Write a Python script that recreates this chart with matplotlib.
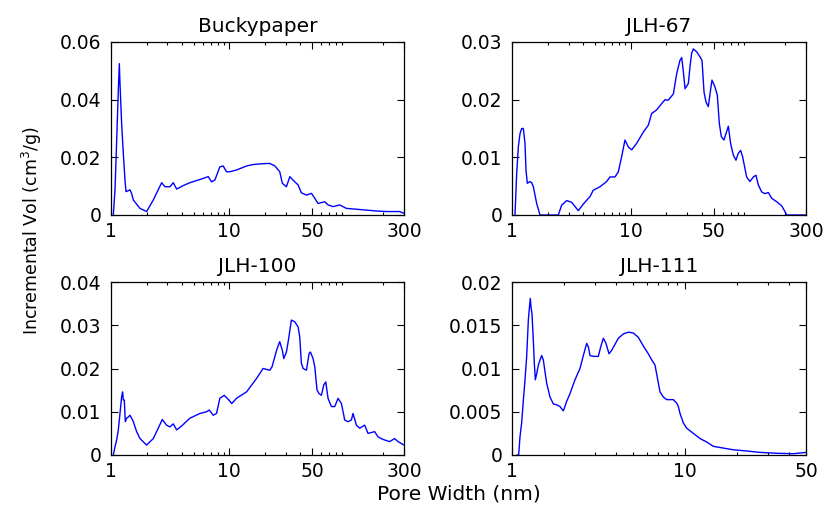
import matplotlib
matplotlib.use("Agg")
import matplotlib.pyplot as plt
from matplotlib.ticker import FixedLocator, FixedFormatter, NullFormatter

plt.rcParams['font.family'] = ['DejaVu Sans']

# ---------------- data ----------------
bucky_x = [1.046, 1.081, 1.117, 1.153, 1.176, 1.191, 1.230, 1.271, 1.313, 1.339, 1.446, 1.494,
           1.544, 1.758, 2.0, 2.277, 2.68, 2.86, 3.15, 3.36, 3.59, 4.08, 4.64, 5.64, 6.64, 7.08,
           7.55, 8.32, 8.88, 9.48, 10.1, 11.5, 14.0, 15.9, 19.3, 22.0, 24.3, 26.7, 28.1, 30.4,
           32.5, 34.6, 38.2, 40.7, 44.9, 49.5, 52.8, 56.3, 64.1, 68.4, 75.4, 85.8, 97.7, 118.6,
           144, 175, 213, 275, 300]
bucky_y = [0, 0.0087, 0.026, 0.0433, 0.0525, 0.0456, 0.0317, 0.0213, 0.0121, 0.0081, 0.0087, 0.0075,
           0.0052, 0.0023, 0.0012, 0.0052, 0.0112, 0.0098, 0.0098, 0.0112, 0.009, 0.0102, 0.0112,
           0.0123, 0.0133, 0.0115, 0.0121, 0.0167, 0.017, 0.015, 0.015, 0.0156, 0.017, 0.0175,
           0.0178, 0.0179, 0.017, 0.015, 0.011, 0.0098, 0.0133, 0.0121, 0.0104, 0.0077, 0.0069,
           0.0075, 0.0058, 0.004, 0.0046, 0.0035, 0.0029, 0.0035, 0.0023, 0.002, 0.0017, 0.0014,
           0.0012, 0.0012, 0.0006]

jlh67_x = [1.06, 1.095, 1.131, 1.168, 1.206, 1.246, 1.287, 1.312, 1.346, 1.418, 1.465, 1.513,
           1.614, 1.721, 2.456, 2.62, 2.887, 3.183, 3.62, 3.99, 4.54, 4.84, 5.51, 6.27, 6.69, 7.38,
           7.87, 8.39, 8.95, 9.55, 10.2, 11.2, 12.8, 14.1, 15.0, 16.5, 18.2, 19.5, 20.7, 22.9,
           24.4, 26.0, 26.9, 27.8, 28.7, 30.6, 31.6, 32.6, 33.7, 36.0, 38.4, 39.9, 41.5, 43.1,
           45.1, 46.6, 48.4, 51.3, 53.7, 55.8, 58.0, 61.1, 63.5, 66.5, 69.5, 73.2, 77.1, 80.7,
           84.4, 87.7, 94.8, 101, 108, 113.7, 119, 127, 135, 144.5, 154, 170, 187, 199.5, 206, 300]
jlh67_y = [0, 0.0072, 0.0118, 0.0141, 0.015, 0.015, 0.0124, 0.0078, 0.0055, 0.0058, 0.0056, 0.0049,
           0.002, 0, 0, 0.0017, 0.0025, 0.0022, 0.00075, 0.0019, 0.0032, 0.0043, 0.0049, 0.0058,
           0.0066, 0.0066, 0.0075, 0.0101, 0.013, 0.0118, 0.0113, 0.0124, 0.0144, 0.0156, 0.0176,
           0.0182, 0.0193, 0.02, 0.0199, 0.021, 0.0245, 0.0268, 0.0273, 0.0248, 0.0219, 0.0228,
           0.0257, 0.028, 0.0288, 0.0283, 0.0274, 0.0268, 0.0213, 0.0196, 0.0188, 0.021, 0.0234,
           0.0222, 0.0208, 0.0159, 0.0136, 0.013, 0.0141, 0.0154, 0.0124, 0.0104, 0.0095, 0.0107,
           0.0112, 0.0101, 0.0066, 0.0058, 0.0066, 0.0069, 0.0052, 0.004, 0.0037, 0.0039, 0.0029,
           0.0023, 0.0016, 0.0006, 0, 0]

jlh100_x = [1.046, 1.081, 1.117, 1.153, 1.176, 1.207, 1.230, 1.254, 1.271, 1.296, 1.321, 1.356,
            1.401, 1.446, 1.494, 1.544, 1.647, 1.758, 2.0, 2.277, 2.51, 2.713, 2.951, 3.15, 3.36,
            3.59, 3.95, 4.64, 5.64, 6.42, 6.77, 7.31, 7.80, 8.32, 9.06, 9.85, 10.5, 11.5, 14.0,
            15.1, 17.0, 19.3, 22.0, 23.0, 25.1, 26.7, 28.1, 28.9, 30.4, 31.6, 33.5, 35.8, 38.2,
            39.4, 40.7, 42.1, 44.9, 47.3, 48.5, 51.1, 52.8, 55.2, 57.4, 60.1, 62.9, 65.4, 68.4,
            73.0, 77.9, 83.1, 88.7, 94.6, 100.9, 107.7, 111.2, 118.7, 126.6, 139.5, 148.9, 158.8,
            169.4, 180.8, 199.3, 226.9, 250, 266.8, 300]
jlh100_y = [0, 0.0019, 0.0035, 0.0058, 0.0081, 0.0112, 0.0135, 0.0146, 0.0127, 0.0127, 0.0077,
            0.0085, 0.0088, 0.0092, 0.0085, 0.0077, 0.0054, 0.0038, 0.0023, 0.0038, 0.0062, 0.0082,
            0.0069, 0.0065, 0.0072, 0.0058, 0.0067, 0.0085, 0.0096, 0.01, 0.0104, 0.0092, 0.0096,
            0.0131, 0.0138, 0.0128, 0.0119, 0.0131, 0.0146, 0.0158, 0.0177, 0.02, 0.0196, 0.0204,
            0.0242, 0.0262, 0.0242, 0.0223, 0.0238, 0.0265, 0.0312, 0.0308, 0.0296, 0.0273, 0.0212,
            0.02, 0.0196, 0.0235, 0.0238, 0.0223, 0.0204, 0.015, 0.0142, 0.0138, 0.0162, 0.0169,
            0.0131, 0.0112, 0.0112, 0.0131, 0.0119, 0.0081, 0.0077, 0.0081, 0.0096, 0.0069, 0.0062,
            0.0069, 0.005, 0.0052, 0.0054, 0.0042, 0.0036, 0.0031, 0.0038, 0.0031, 0.0023]

jlh111_x = [1.073, 1.093, 1.112, 1.137, 1.163, 1.189, 1.215, 1.243, 1.259, 1.276, 1.288, 1.305,
            1.328, 1.346, 1.364, 1.389, 1.420, 1.465, 1.484, 1.517, 1.586, 1.658, 1.734, 1.812,
            1.894, 1.980, 2.070, 2.164, 2.312, 2.471, 2.584, 2.701, 2.762, 2.823, 2.951, 3.155,
            3.254, 3.373, 3.493, 3.636, 3.767, 3.938, 4.117, 4.400, 4.703, 5.026, 5.372, 5.741,
            6.136, 6.415, 6.706, 7.011, 7.168, 7.493, 7.834, 8.560, 8.947, 9.149, 9.352, 9.777,
            10.22, 11.17, 12.21, 13.34, 14.58, 16.65, 19.02, 21.73, 27.13, 33.84, 42.27, 50]
jlh111_y = [0, 0, 0.0021, 0.0037, 0.0063, 0.0087, 0.0113, 0.0156, 0.0169, 0.0181, 0.0171, 0.0163,
            0.0133, 0.0106, 0.0087, 0.0094, 0.0104, 0.0112, 0.0115, 0.011, 0.0083, 0.0067, 0.0059,
            0.0058, 0.0056, 0.0051, 0.0062, 0.0071, 0.0087, 0.01, 0.0115, 0.0129, 0.0125, 0.0115,
            0.0114, 0.0114, 0.0125, 0.0135, 0.0129, 0.0117, 0.0121, 0.0128, 0.0135, 0.014, 0.0142,
            0.0141, 0.0136, 0.0126, 0.0117, 0.011, 0.0104, 0.0083, 0.0073, 0.0067, 0.0064, 0.0064,
            0.006, 0.0056, 0.0048, 0.0037, 0.0031, 0.0025, 0.0019, 0.0015, 0.001, 0.0008, 0.0006,
            0.0005, 0.0003, 0.0002, 0.00015, 0.0003]

titles = ["Buckypaper", "JLH-67", "JLH-100", "JLH-111"]
xmax = [300, 300, 300, 50]
ymax = [0.06, 0.03, 0.04, 0.02]
yticks = [[0, 0.02, 0.04, 0.06], [0, 0.01, 0.02, 0.03],
          [0, 0.01, 0.02, 0.03, 0.04], [0, 0.005, 0.01, 0.015, 0.02]]
ytick_labels = [["0", "0.02", "0.04", "0.06"], ["0", "0.01", "0.02", "0.03"],
                ["0", "0.01", "0.02", "0.03", "0.04"], ["0", "0.005", "0.01", "0.015", "0.02"]]
xticks_300 = [1, 10, 50, 300]
xtick_labels_300 = ["1", "10", "50", "300"]
xticks_50 = [1, 10, 50]
xtick_labels_50 = ["1", "10", "50"]
xlabel = "Pore Width (nm)"
ylabel = "Incremental Vol (cm$^3$/g)"

series = [(bucky_x, bucky_y), (jlh67_x, jlh67_y), (jlh100_x, jlh100_y), (jlh111_x, jlh111_y)]

# ---------------- figure ----------------
W, H = 826, 505
fig = plt.figure(figsize=(W / 100, H / 100), dpi=100)

boxes = [(111, 42, 404, 215), (512, 42, 806, 215), (111, 282, 404, 455), (512, 282, 806, 455)]
minor_all = [2, 3, 4, 5, 6, 7, 8, 9, 20, 30, 40, 60, 70, 80, 90, 200]

for i, (l, t, r, b) in enumerate(boxes):
    ax = fig.add_axes([l / W, 1 - b / H, (r - l) / W, (b - t) / H])
    xs, ys = series[i]
    ax.plot(xs, ys, color=(0, 0, 1), lw=1.0)
    ax.set_xscale('log')
    ax.set_xlim(1, xmax[i])
    ax.set_ylim(0, ymax[i])
    if xmax[i] == 300:
        ax.xaxis.set_major_locator(FixedLocator(xticks_300))
        ax.xaxis.set_major_formatter(FixedFormatter(xtick_labels_300))
    else:
        ax.xaxis.set_major_locator(FixedLocator(xticks_50))
        ax.xaxis.set_major_formatter(FixedFormatter(xtick_labels_50))
    ax.xaxis.set_minor_locator(FixedLocator([m for m in minor_all if m < xmax[i]]))
    ax.xaxis.set_minor_formatter(NullFormatter())
    ax.set_yticks(yticks[i])
    ax.set_yticklabels(ytick_labels[i])
    ax.tick_params(which='both', direction='in', top=True, right=True,
                   labelsize=13.5, colors='black', width=0.8)
    ax.tick_params(which='major', length=5, pad=5)
    ax.tick_params(which='minor', length=2.5)
    ax.tick_params(axis='y', pad=7)
    for s in ax.spines.values():
        s.set_linewidth(0.9)
        s.set_color('black')
    ax.set_title(titles[i], fontsize=14.5, pad=7)

fig.text(459 / W, 1 - 494 / H, xlabel, ha='center', va='center', fontsize=14.5)
fig.text(32 / W, 1 - 231 / H, ylabel, ha='center', va='center', rotation=90, fontsize=12.5)

fig.savefig("out.png", dpi=100)
